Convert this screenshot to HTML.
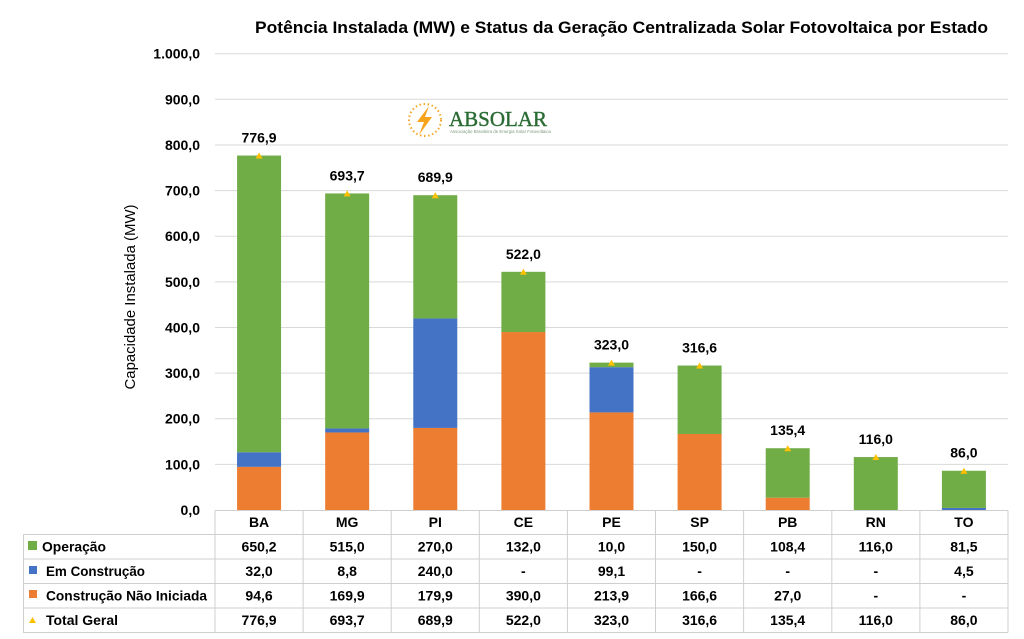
<!DOCTYPE html>
<html><head><meta charset="utf-8"><style>
html,body{margin:0;padding:0;background:#fff;}
svg{display:block;font-family:"Liberation Sans",sans-serif;}
</style></head><body>
<svg width="1024" height="639" viewBox="0 0 1024 639" xmlns="http://www.w3.org/2000/svg">
<rect width="1024" height="639" fill="#fff"/>
<!-- title -->
<text x="255" y="33" font-size="17" font-weight="bold" fill="#000" textLength="733" lengthAdjust="spacingAndGlyphs">Potência Instalada (MW) e Status da Geração Centralizada Solar Fotovoltaica por Estado</text>
<!-- gridlines -->
<g stroke="#d9d9d9" stroke-width="1">
<line x1="215" x2="1008" y1="53.7" y2="53.7"/>
<line x1="215" x2="1008" y1="99.3" y2="99.3"/>
<line x1="215" x2="1008" y1="145.0" y2="145.0"/>
<line x1="215" x2="1008" y1="190.6" y2="190.6"/>
<line x1="215" x2="1008" y1="236.2" y2="236.2"/>
<line x1="215" x2="1008" y1="281.9" y2="281.9"/>
<line x1="215" x2="1008" y1="327.5" y2="327.5"/>
<line x1="215" x2="1008" y1="373.1" y2="373.1"/>
<line x1="215" x2="1008" y1="418.7" y2="418.7"/>
<line x1="215" x2="1008" y1="464.4" y2="464.4"/>
</g>
<!-- y ticks -->
<g font-size="14" font-weight="bold" fill="#000" text-anchor="end">
<text x="200" y="58.7">1.000,0</text>
<text x="200" y="104.3">900,0</text>
<text x="200" y="150.0">800,0</text>
<text x="200" y="195.6">700,0</text>
<text x="200" y="241.2">600,0</text>
<text x="200" y="286.9">500,0</text>
<text x="200" y="332.5">400,0</text>
<text x="200" y="378.1">300,0</text>
<text x="200" y="423.7">200,0</text>
<text x="200" y="469.4">100,0</text>
<text x="200" y="515">0,0</text>
</g>
<text transform="translate(135,297) rotate(-90)" font-size="15" fill="#000" text-anchor="middle" textLength="185" lengthAdjust="spacingAndGlyphs">Capacidade Instalada (MW)</text>
<!-- logo -->
<g>
<circle cx="425" cy="120" r="16" fill="none" stroke="#f5a623" stroke-width="2" stroke-dasharray="1.5 2.6"/>
<polygon points="429,106 417,122 424,122 419,135 432,117 425,117" fill="#f7a31c"/>
<text x="449" y="126" font-family="'Liberation Serif',serif" font-size="21" fill="#2a6b34" stroke="#2a6b34" stroke-width="0.4" textLength="98" lengthAdjust="spacingAndGlyphs">ABSOLAR</text>
<text x="450" y="133" font-size="4.5" fill="#7a9a7a" textLength="101" lengthAdjust="spacingAndGlyphs">Associação Brasileira de Energia Solar Fotovoltaica</text>
</g>
<!-- bars -->
<g>
<rect x="237.06" y="466.83" width="44" height="43.17" fill="#ed7d31"/>
<rect x="237.06" y="452.23" width="44" height="14.6" fill="#4472c4"/>
<rect x="237.06" y="155.54" width="44" height="296.69" fill="#70ad47"/>
<rect x="325.17" y="432.47" width="44" height="77.53" fill="#ed7d31"/>
<rect x="325.17" y="428.45" width="44" height="4.02" fill="#4472c4"/>
<rect x="325.17" y="193.45" width="44" height="235.0" fill="#70ad47"/>
<rect x="413.28" y="427.91" width="44" height="82.09" fill="#ed7d31"/>
<rect x="413.28" y="318.40" width="44" height="109.51" fill="#4472c4"/>
<rect x="413.28" y="195.20" width="44" height="123.2" fill="#70ad47"/>
<rect x="501.39" y="332.04" width="44" height="177.96" fill="#ed7d31"/>
<rect x="501.39" y="271.81" width="44" height="60.23" fill="#70ad47"/>
<rect x="589.5" y="412.40" width="44" height="97.6" fill="#ed7d31"/>
<rect x="589.5" y="367.18" width="44" height="45.22" fill="#4472c4"/>
<rect x="589.5" y="362.62" width="44" height="4.56" fill="#70ad47"/>
<rect x="677.6" y="433.98" width="44" height="76.02" fill="#ed7d31"/>
<rect x="677.6" y="365.53" width="44" height="68.45" fill="#70ad47"/>
<rect x="765.7" y="497.68" width="44" height="12.32" fill="#ed7d31"/>
<rect x="765.7" y="448.22" width="44" height="49.46" fill="#70ad47"/>
<rect x="853.8" y="457.07" width="44" height="52.93" fill="#70ad47"/>
<rect x="941.9" y="507.95" width="44" height="2.05" fill="#4472c4"/>
<rect x="941.9" y="470.76" width="44" height="37.19" fill="#70ad47"/>
</g>
<!-- triangles -->
<g fill="#ffc000">
<polygon points="255.56,158.5 262.56,158.5 259.06,152.5"/>
<polygon points="343.67,196.4 350.67,196.4 347.17,190.4"/>
<polygon points="431.78,198.2 438.78,198.2 435.28,192.2"/>
<polygon points="519.89,274.8 526.89,274.8 523.39,268.8"/>
<polygon points="608,365.6 615,365.6 611.5,359.6"/>
<polygon points="696.1,368.5 703.1,368.5 699.6,362.5"/>
<polygon points="784.2,451.2 791.2,451.2 787.7,445.2"/>
<polygon points="872.3,460 879.3,460 875.8,454"/>
<polygon points="960.4,473.7 967.4,473.7 963.9,467.7"/>
</g>
<!-- value labels -->
<g font-size="14" font-weight="bold" fill="#000" text-anchor="middle">
<text x="259.06" y="142.5">776,9</text>
<text x="347.17" y="180.5">693,7</text>
<text x="435.28" y="182.2">689,9</text>
<text x="523.39" y="258.8">522,0</text>
<text x="611.5" y="349.6">323,0</text>
<text x="699.6" y="352.5">316,6</text>
<text x="787.7" y="435.2">135,4</text>
<text x="875.8" y="444">116,0</text>
<text x="963.9" y="457.7">86,0</text>
</g>
<!-- table -->
<g stroke="#cfcfcf" stroke-width="1" fill="none">
<line x1="215" x2="1008" y1="510.5" y2="510.5"/>
<line x1="23" x2="1008" y1="534.5" y2="534.5"/>
<line x1="23" x2="1008" y1="559" y2="559"/>
<line x1="23" x2="1008" y1="583.5" y2="583.5"/>
<line x1="23" x2="1008" y1="608" y2="608"/>
<line x1="23" x2="1008" y1="632.5" y2="632.5"/>
<line x1="23.5" x2="23.5" y1="534.5" y2="632.5"/>
<line x1="215" x2="215" y1="510.5" y2="632.5"/>
<line x1="303.1" x2="303.1" y1="510.5" y2="632.5"/>
<line x1="391.2" x2="391.2" y1="510.5" y2="632.5"/>
<line x1="479.3" x2="479.3" y1="510.5" y2="632.5"/>
<line x1="567.4" x2="567.4" y1="510.5" y2="632.5"/>
<line x1="655.5" x2="655.5" y1="510.5" y2="632.5"/>
<line x1="743.6" x2="743.6" y1="510.5" y2="632.5"/>
<line x1="831.8" x2="831.8" y1="510.5" y2="632.5"/>
<line x1="919.9" x2="919.9" y1="510.5" y2="632.5"/>
<line x1="1008" x2="1008" y1="510.5" y2="632.5"/>
</g>
<!-- row markers -->
<rect x="28" y="541" width="9" height="9" fill="#70ad47"/>
<rect x="29" y="566" width="8" height="8" fill="#4472c4"/>
<rect x="29" y="590" width="8" height="8" fill="#ed7d31"/>
<polygon points="29,623 36,623 32.5,617" fill="#ffc000"/>
<g font-size="14" font-weight="bold" fill="#000">
<text x="42" y="551.5" textLength="64" lengthAdjust="spacingAndGlyphs">Operação</text>
<text x="46" y="576" textLength="99" lengthAdjust="spacingAndGlyphs">Em Construção</text>
<text x="46" y="600.5" textLength="161" lengthAdjust="spacingAndGlyphs">Construção Não Iniciada</text>
<text x="46" y="625" textLength="72" lengthAdjust="spacingAndGlyphs">Total Geral</text>
</g>
<g font-size="14" font-weight="bold" fill="#000" text-anchor="middle">
<text x="259.06" y="527">BA</text><text x="347.17" y="527">MG</text><text x="435.28" y="527">PI</text><text x="523.39" y="527">CE</text><text x="611.5" y="527">PE</text><text x="699.6" y="527">SP</text><text x="787.7" y="527">PB</text><text x="875.8" y="527">RN</text><text x="963.9" y="527">TO</text>

<text x="259.06" y="551.5">650,2</text><text x="347.17" y="551.5">515,0</text><text x="435.28" y="551.5">270,0</text><text x="523.39" y="551.5">132,0</text><text x="611.5" y="551.5">10,0</text><text x="699.6" y="551.5">150,0</text><text x="787.7" y="551.5">108,4</text><text x="875.8" y="551.5">116,0</text><text x="963.9" y="551.5">81,5</text>

<text x="259.06" y="576">32,0</text><text x="347.17" y="576">8,8</text><text x="435.28" y="576">240,0</text><text x="523.39" y="576">-</text><text x="611.5" y="576">99,1</text><text x="699.6" y="576">-</text><text x="787.7" y="576">-</text><text x="875.8" y="576">-</text><text x="963.9" y="576">4,5</text>

<text x="259.06" y="600.5">94,6</text><text x="347.17" y="600.5">169,9</text><text x="435.28" y="600.5">179,9</text><text x="523.39" y="600.5">390,0</text><text x="611.5" y="600.5">213,9</text><text x="699.6" y="600.5">166,6</text><text x="787.7" y="600.5">27,0</text><text x="875.8" y="600.5">-</text><text x="963.9" y="600.5">-</text>

<text x="259.06" y="625">776,9</text><text x="347.17" y="625">693,7</text><text x="435.28" y="625">689,9</text><text x="523.39" y="625">522,0</text><text x="611.5" y="625">323,0</text><text x="699.6" y="625">316,6</text><text x="787.7" y="625">135,4</text><text x="875.8" y="625">116,0</text><text x="963.9" y="625">86,0</text>
</g>
</svg>
</body></html>
